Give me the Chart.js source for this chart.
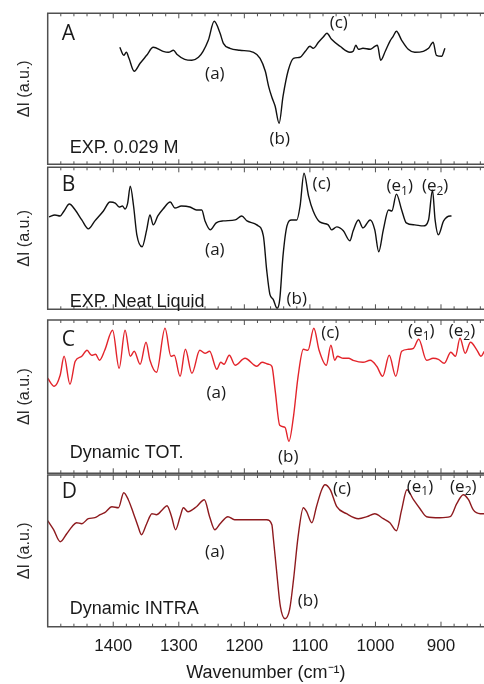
<!DOCTYPE html>
<html>
<head>
<meta charset="utf-8">
<script src="https://cdn.jsdelivr.net/npm/chart.js@4.4.0/dist/chart.umd.min.js"></script>
<style>
    html, body { margin: 0; padding: 0; background: #fff; overflow: hidden; }
    #wrap { position: relative; width: 484px; height: 684px; }
    #wrap canvas { position: absolute; left: 0; }
</style>
</head>
<body>
<div id="wrap">
    <canvas id="chartA" width="484" height="168" style="top:0px"></canvas>
    <canvas id="chartB" width="484" height="145" style="top:166px"></canvas>
    <canvas id="chartC" width="484" height="164" style="top:312px"></canvas>
    <canvas id="chartD" width="484" height="212" style="top:472px"></canvas>
</div>
<script>
// Wavenumber axis (cm-1), shown reversed
const xMax = 1500;
const xMin = 834.4;
const xTicks = [1400, 1300, 1200, 1100, 1000, 900];

// A: EXP. 0.029 M
const wnA = [1390,1384,1380,1376,1368,1359,1349,1339,1324,1316,1308,1303,1291,1280,1270,1263,1255,1246,1237,1232,1222,1207,1186,1176,1168,1163,1158,1153,1147,1141,1133,1125,1115,1107,1100,1095,1087,1080,1074,1067,1054,1039,1034,1030,1026,1019,1008,1001,997,992,985,978,973,968,960,950,940,927,919,912,907,899,894];
const intA = [117,109,112,106,93,101,109,117,113,112,114,110,105,104,107,113,124,143,131,121,116,114,112,106,93,78,67,58,41,68,94,106,107,113,118,116,122,127,131,125,118,112,113,119,115,116,115,118,119,104,113,123,128,133,124,115,112,113,116,122,109,108,116];

// B: EXP. Neat Liquid
const wnB = [1498,1489,1481,1475,1467,1458,1448,1438,1428,1415,1405,1397,1391,1386,1382,1378,1374,1369,1364,1356,1349,1344,1339,1332,1324,1313,1306,1296,1283,1273,1265,1260,1252,1243,1232,1214,1204,1196,1181,1171,1166,1161,1156,1150,1146,1141,1135,1128,1120,1115,1109,1102,1095,1085,1072,1067,1059,1049,1039,1034,1026,1019,1008,1001,995,988,980,975,968,960,953,940,927,919,913,909,904,896,886,884];
const intB = [92,94,93,98,105,99,89,80,88,98,107,106,102,103,100,106,123,103,74,62,79,94,84,93,100,107,101,103,102,99,99,88,79,86,88,89,93,88,84,73,39,14,9,0,9,53,83,89,89,103,136,113,98,87,84,79,82,78,68,78,89,81,89,79,57,79,99,98,115,99,86,84,83,89,119,89,74,88,93,93];

// C: Dynamic TOT.
const wnC = [1500,1490,1481,1475,1466,1458,1448,1440,1433,1427,1421,1413,1401,1391,1382,1374,1368,1359,1350,1344,1334,1321,1312,1307,1298,1290,1280,1268,1260,1253,1242,1236,1231,1223,1214,1199,1181,1173,1163,1158,1153,1146,1138,1132,1125,1118,1110,1103,1094,1086,1075,1068,1062,1058,1049,1041,1034,1019,1008,998,989,979,969,960,950,942,934,922,912,904,895,885,878,871,863,855,845,839,834];
const intC = [95,87,98,117,89,112,117,123,118,119,113,123,143,105,143,117,122,109,131,113,101,145,117,118,97,124,100,123,120,122,104,111,109,118,108,115,107,111,109,107,83,48,46,32,57,97,124,123,145,123,108,128,113,117,115,115,113,111,113,107,97,118,97,122,124,125,134,113,115,114,110,121,117,135,120,131,123,117,122];

// D: Dynamic INTRA
const wnD = [1500,1491,1481,1471,1463,1456,1448,1438,1428,1420,1413,1402,1392,1384,1377,1369,1362,1357,1349,1341,1334,1325,1318,1311,1305,1298,1293,1286,1273,1261,1253,1245,1237,1225,1215,1207,1186,1166,1158,1156,1151,1145,1138,1131,1125,1118,1110,1105,1097,1090,1082,1077,1069,1059,1044,1026,1013,1001,988,978,968,960,952,942,932,922,902,886,876,866,858,851,840,834];
const intD = [106,97,85,93,100,104,103,108,109,112,114,120,119,134,127,113,100,92,103,113,112,117,121,110,97,110,119,115,120,127,110,97,103,110,107,107,107,107,102,90,57,20,8,17,47,90,119,115,104,120,137,142,137,120,113,108,110,113,108,104,96,117,137,127,118,110,109,110,123,132,127,117,113,113];

const textColor = '#1a1a1a';
const frameColor = '#505050';

// draws "(e1)" style labels with a subscript digit
function drawLabel(ctx, text, x, y) {
    const m = text.match(/^\((\w)(\d)?\)$/);
    const mainFont = '17px "Open Sans"';
    const subFont = '12px "Open Sans"';
    ctx.font = mainFont;
    if (!m || !m[2]) {
        ctx.textAlign = 'center';
        ctx.fillText(text, x, y);
        return;
    }
    const head = '(' + m[1];
    const w1 = ctx.measureText(head).width;
    const w3 = ctx.measureText(')').width;
    ctx.font = subFont;
    const w2 = ctx.measureText(m[2]).width;
    const left = x - (w1 + w2 + w3) / 2;
    ctx.textAlign = 'left';
    ctx.font = mainFont;
    ctx.fillText(head, left, y);
    ctx.font = subFont;
    ctx.fillText(m[2], left + w1, y + 5);
    ctx.font = mainFont;
    ctx.fillText(')', left + w1 + w2, y);
}

const panelDecor = {
    id: 'panelDecor',
    afterDatasetsDraw(chart, args, opts) {
        const { ctx, chartArea: a, scales: { x } } = chart;
        ctx.save();

        // frame (right side runs off the picture)
        ctx.strokeStyle = frameColor;
        ctx.lineWidth = 1.5;
        ctx.beginPath();
        ctx.moveTo(a.right + 5, a.top);
        ctx.lineTo(a.left, a.top);
        ctx.lineTo(a.left, a.bottom);
        ctx.lineTo(a.right + 5, a.bottom);
        ctx.stroke();

        // inward ticks, top and bottom
        ctx.lineWidth = 1;
        for (let w = 1480; w > xMin; w -= 20) {
            const px = x.getPixelForValue(w);
            const len = w % 100 === 0 ? 5 : 3;
            ctx.beginPath();
            ctx.moveTo(px, a.top);
            ctx.lineTo(px, a.top + len);
            ctx.moveTo(px, a.bottom);
            ctx.lineTo(px, a.bottom - len);
            ctx.stroke();
        }

        ctx.fillStyle = textColor;
        ctx.textBaseline = 'middle';

        // panel letter
        ctx.textAlign = 'left';
        ctx.font = '21px "Open Sans"';
        ctx.fillText(opts.letter, a.left + 14, a.top + opts.letterDy);

        // panel description
        ctx.textBaseline = 'alphabetic';
        ctx.font = '18px "Liberation Sans"';
        ctx.fillText(opts.desc, a.left + 22, a.bottom - opts.descDy);

        // peak labels
        ctx.textBaseline = 'middle';
        const yScale = chart.scales.y;
        opts.labels.forEach(l => {
            drawLabel(ctx, l[0], x.getPixelForValue(l[1]), yScale.getPixelForValue(l[2]));
        });
        ctx.restore();
    }
};

function makePanel(id, wn, vals, color, yMin, yMax, decor, padding, showAxis) {
    const points = wn.map((w, i) => ({ x: w, y: vals[i] }));
    return new Chart(document.getElementById(id), {
        type: 'line',
        data: {
            datasets: [{
                data: points,
                borderColor: color,
                borderWidth: 1.4,
                pointRadius: 0,
                cubicInterpolationMode: 'monotone',
                fill: false
            }]
        },
        options: {
            responsive: false,
            animation: false,
            devicePixelRatio: 1,
            layout: { padding: padding },
            plugins: {
                legend: { display: false },
                tooltip: { enabled: false },
                panelDecor: decor
            },
            scales: {
                x: {
                    type: 'linear',
                    reverse: true,
                    min: xMin,
                    max: xMax,
                    display: showAxis,
                    grid: { display: false, drawTicks: false },
                    border: { display: false },
                    afterBuildTicks: s => { s.ticks = xTicks.map(v => ({ value: v })); },
                    afterFit: s => { s.height = showAxis ? 57.3 : 0; },
                    ticks: {
                        padding: 9,
                        color: textColor,
                        font: { family: 'Liberation Sans', size: 17 },
                        callback: v => String(v)
                    },
                    title: {
                        display: true,
                        text: 'Wavenumber (cm⁻¹)',
                        color: textColor,
                        font: { family: 'Liberation Sans', size: 18 },
                        padding: { top: 0, bottom: 0 }
                    }
                },
                y: {
                    min: yMin,
                    max: yMax,
                    grid: { display: false },
                    border: { display: false },
                    ticks: { display: false },
                    afterFit: s => { s.width = 47.7; },
                    title: {
                        display: true,
                        text: 'ΔI (a.u.)',
                        color: '#2a2a2a',
                        font: { family: 'Liberation Sans', size: 16 },
                        padding: { top: 15, bottom: 0 }
                    }
                }
            }
        },
        plugins: [panelDecor]
    });
}

makePanel('chartA', wnA, intA, '#111111', 0, 151, {
    letter: 'A', letterDy: 21, desc: 'EXP. 0.029 M', descDy: 11,
    labels: [['(a)', 1245, 90], ['(b)', 1146, 25], ['(c)', 1056, 141]]
}, { top: 13.3, bottom: 3.7, left: 0, right: 0 }, false);

makePanel('chartB', wnB, intB, '#111111', -1, 142, {
    letter: 'B', letterDy: 18, desc: 'EXP. Neat Liquid', descDy: 2.6,
    labels: [['(a)', 1245, 59], ['(b)', 1120, 9], ['(c)', 1082, 125], ['(e1)', 963, 123], ['(e2)', 909, 123]]
}, { top: 1.3, bottom: 1.7, left: 0, right: 0 }, false);

makePanel('chartC', wnC, intC, '#e3242b', 0, 153.3, {
    letter: 'C', letterDy: 20.5, desc: 'Dynamic TOT.', descDy: 15,
    labels: [['(a)', 1243, 80], ['(b)', 1133, 16], ['(c)', 1069, 140], ['(e1)', 930, 142], ['(e2)', 868, 142]]
}, { top: 8, bottom: 2.7, left: 0, right: 0 }, false);

makePanel('chartD', wnD, intD, '#8e1a1e', 0, 151.7, {
    letter: 'D', letterDy: 17.5, desc: 'Dynamic INTRA', descDy: 13.2,
    labels: [['(a)', 1245, 75], ['(b)', 1103, 26], ['(c)', 1051, 138], ['(e1)', 932, 140], ['(e2)', 866, 140]]
}, { top: 3, bottom: 0, left: 0, right: 0 }, true);
</script>
</body>
</html>
